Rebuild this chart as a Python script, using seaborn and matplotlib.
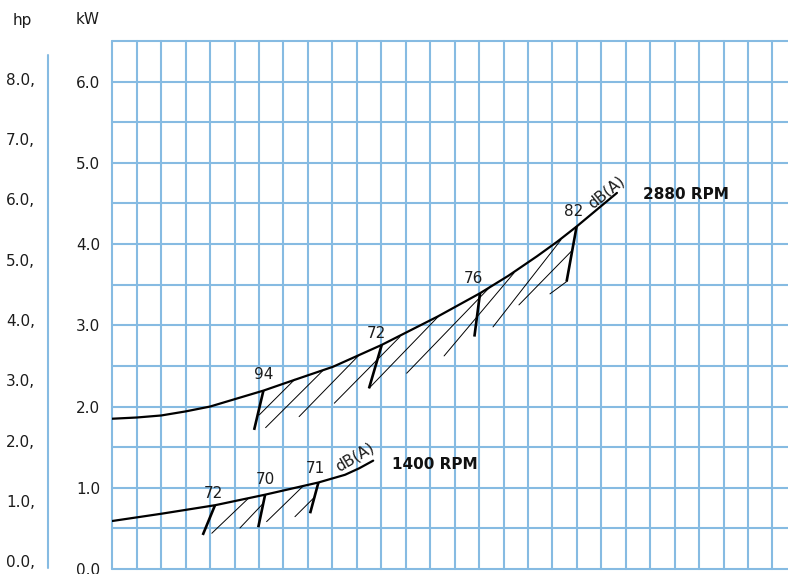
import numpy as np
import pandas as pd
import matplotlib
matplotlib.use("Agg")
import matplotlib.pyplot as plt
from matplotlib.lines import Line2D
from matplotlib.transforms import blended_transform_factory
import seaborn as sns

# ---------------- data (x in grid-cell units, y in kW) ----------------
x_2880 = [0, 1.0, 2.0, 3.0, 4.0, 5.0, 6.18, 7.47, 9.03, 11.02, 13.32, 15.04, 16.2, 17.37, 18.2, 18.99, 20.64]
kw_2880 = [1.85, 1.865, 1.89, 1.94, 2.00, 2.09, 2.196, 2.33, 2.49, 2.759, 3.11, 3.395, 3.61, 3.85, 4.03, 4.216, 4.63]
x_1400 = [0, 2.0, 4.2, 6.25, 8.43, 9.52, 10.1, 10.67]
kw_1400 = [0.591, 0.68, 0.785, 0.915, 1.065, 1.16, 1.24, 1.334]

# sound level markers (thick strokes) 2880 RPM
mk2880_lab = ["94", "72", "76", "82"]
mk2880_tx = [6.18, 11.02, 15.04, 18.99]
mk2880_ty = [2.196, 2.759, 3.395, 4.216]
mk2880_bx = [5.80, 10.50, 14.81, 18.58]
mk2880_by = [1.712, 2.225, 2.861, 3.538]
lab2880_x = [6.18, 10.79, 14.79, 18.85]
lab2880_y = [2.389, 2.903, 3.580, 4.400]

# hatch strokes 2880 RPM
h2880_x0 = [6.01, 6.27, 7.64, 9.08, 10.50, 12.04, 13.57, 15.57, 16.63, 17.90]
h2880_y0 = [1.897, 1.740, 1.876, 2.041, 2.225, 2.410, 2.623, 2.980, 3.251, 3.387]
h2880_x1 = [7.47, 8.61, 10.06, 11.77, 13.33, 15.49, 16.43, 18.35, 18.79, 18.58]
h2880_y1 = [2.336, 2.442, 2.623, 2.861, 3.107, 3.485, 3.645, 4.052, 3.916, 3.538]

# sound level markers 1400 RPM
mk1400_lab = ["72", "70", "71"]
mk1400_tx = [4.20, 6.25, 8.43]
mk1400_ty = [0.785, 0.915, 1.065]
mk1400_bx = [3.70, 5.97, 8.09]
mk1400_by = [0.419, 0.514, 0.686]
lab1400_x = [4.13, 6.25, 8.29]
lab1400_y = [0.932, 1.096, 1.240]

# hatch strokes 1400 RPM
h1400_x0 = [4.07, 5.22, 6.31, 7.47]
h1400_y0 = [0.440, 0.505, 0.583, 0.644]
h1400_x1 = [5.55, 6.18, 7.81, 8.29]
h1400_y1 = [0.865, 0.810, 1.022, 0.890]

kw_ticks = [0, 1, 2, 3, 4, 5, 6]
hp_ticks = [0, 1, 2, 3, 4, 5, 6, 7, 8]
HP_TO_KW = 0.743

# ---------------- figure ----------------
sns.set_theme(style="white")
plt.rcParams['font.family'] = ['DejaVu Sans']
FS = 11
GRID = '#86bbe2'
TXT = '#1c1c1c'

W, H = 788, 574
fig = plt.figure(figsize=(W / 100, H / 100), dpi=100)
left, right, bottom, top = 112.3, 788, 5, 41
ax = fig.add_axes([left / W, bottom / H, (right - left) / W, (H - top - bottom) / H])
ax.set_xlim(0, (right - left) / 24.45)
ax.set_ylim(0, 6.5)

ax.set_xticks(np.arange(0, 28, 1))
ax.set_xticklabels([])
yt = np.arange(0, 6.51, 0.5)
ax.set_yticks(yt)
ax.set_yticklabels([f"{v:.1f}" if v in kw_ticks else "" for v in yt], fontsize=FS, color=TXT)
ax.tick_params(length=0, axis='y', pad=8.9)
ax.tick_params(length=0, axis='x')
ax.grid(True, color=GRID, lw=1.5)
for gl in ax.get_xgridlines() + ax.get_ygridlines():
    gl.set_clip_on(False)
for s in ax.spines.values():
    s.set_visible(False)

df28 = pd.DataFrame({"x": x_2880, "kW": kw_2880})
df14 = pd.DataFrame({"x": x_1400, "kW": kw_1400})
sns.lineplot(data=df28, x="x", y="kW", ax=ax, color='black', lw=1.6, sort=True, zorder=5)
sns.lineplot(data=df14, x="x", y="kW", ax=ax, color='black', lw=1.6, sort=True, zorder=5)
ax.set_xlabel("")
ax.set_ylabel("")

def draw_group(tx, ty, bx, by, hx0, hy0, hx1, hy1, labs, lx, ly):
    for a, b, c, d in zip(tx, ty, bx, by):
        ax.plot([a, c], [b, d], color='black', lw=1.9, solid_capstyle='butt', zorder=6)
    for a, b, c, d in zip(hx0, hy0, hx1, hy1):
        ax.plot([a, c], [b, d], color='black', lw=0.7, zorder=6)
    for t, a, b in zip(labs, lx, ly):
        ax.text(a, b, t, ha='center', va='center', fontsize=FS, color=TXT, zorder=7)

draw_group(mk2880_tx, mk2880_ty, mk2880_bx, mk2880_by,
           h2880_x0, h2880_y0, h2880_x1, h2880_y1, mk2880_lab, lab2880_x, lab2880_y)
draw_group(mk1400_tx, mk1400_ty, mk1400_bx, mk1400_by,
           h1400_x0, h1400_y0, h1400_x1, h1400_y1, mk1400_lab, lab1400_x, lab1400_y)

ax.text(20.22, 4.643, "dB(A)", rotation=39, ha='center', va='center', fontsize=FS,
        color=TXT, rotation_mode='anchor', zorder=7)
ax.text(9.93, 1.379, "dB(A)", rotation=31, ha='center', va='center', fontsize=FS,
        color=TXT, rotation_mode='anchor', zorder=7)
ax.text(23.47, 4.606, "2880 RPM", ha='center', va='center', fontsize=FS,
        fontweight='bold', color='#111111', zorder=7)
ax.text(13.18, 1.281, "1400 RPM", ha='center', va='center', fontsize=FS,
        fontweight='bold', color='#111111', zorder=7)

# hp scale on the left
tr = blended_transform_factory(ax.transAxes, ax.transData)
xhp = (35 - left) / (right - left)
for h in hp_ticks:
    ax.text(xhp, 0.074 + h * HP_TO_KW, f"{h:.1f},", transform=tr, ha='right', va='center',
            fontsize=FS, color=TXT, clip_on=False)
fig.add_artist(Line2D([48.3 / W, 48.3 / W], [1 - 568 / H, 1 - 55 / H],
                      color=GRID, lw=1.5, transform=fig.transFigure))

fig.text(22 / W, 1 - 20 / H, "hp", ha='center', va='center', fontsize=FS, color=TXT)
fig.text(88 / W, 1 - 20 / H, "kW", ha='center', va='center', fontsize=FS, color=TXT)

fig.savefig("out.png", dpi=100)
